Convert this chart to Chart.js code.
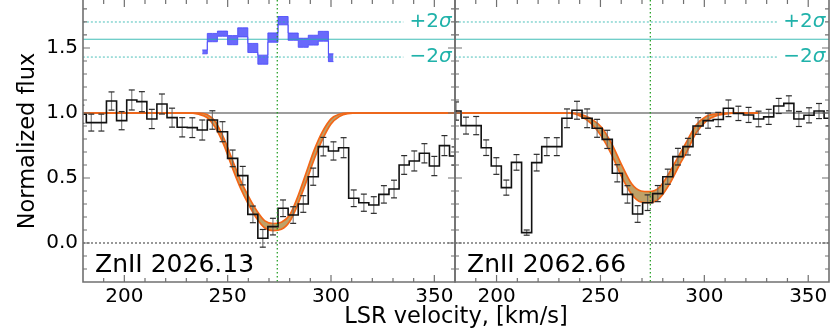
<!DOCTYPE html>
<html>
<head>
<meta charset="utf-8">
<script src="https://cdn.jsdelivr.net/npm/chart.js@4.4.1/dist/chart.umd.min.js"></script>
<style>
html, body { margin: 0; padding: 0; background: #fff; }
#wrap { position: relative; width: 830px; height: 332px; }
canvas { position: absolute; left: 0; top: 0; }
</style>
</head>
<body>
<div id="wrap">
  <canvas id="left" width="830" height="332"></canvas>
  <canvas id="right" width="830" height="332"></canvas>
</div>
<script>
// ZnII 2026.13 : binned flux, 1 sigma errors
var velLeft  = [179.2, 184.0, 188.9, 193.8, 198.7, 203.6, 208.5, 213.3, 218.2, 223.1, 228.0, 232.9, 237.7, 242.6, 247.5, 252.4, 257.3, 262.2, 267.0, 271.9,
                276.8, 281.7, 286.6, 291.4, 296.3, 301.2, 306.1, 311.0, 315.9, 320.7, 325.6, 330.5, 335.4, 340.3, 345.2, 350.0, 354.9, 359.8];
var fluxLeft = [0.99, 0.926, 0.926, 1.092, 0.941, 1.10, 1.087, 0.954, 1.069, 0.964, 0.89, 0.887, 0.869, 0.946, 0.856, 0.651, 0.518, 0.22, 0.036, 0.126,
                0.267, 0.215, 0.30, 0.51, 0.741, 0.708, 0.733, 0.344, 0.31, 0.292, 0.374, 0.415, 0.60, 0.631, 0.69, 0.592, 0.749, 0.669];
var errLeft  = [0.07, 0.065, 0.065, 0.07, 0.07, 0.077, 0.077, 0.074, 0.077, 0.073, 0.074, 0.076, 0.077, 0.071, 0.077, 0.064, 0.071, 0.064, 0.068, 0.064,
                0.064, 0.064, 0.064, 0.066, 0.071, 0.07, 0.077, 0.064, 0.066, 0.064, 0.067, 0.068, 0.072, 0.077, 0.074, 0.074, 0.077, 0.07];

// model profile band (lower / upper edge)
var modelVelLeft = [180, 230, 236, 240, 244, 248, 252, 256, 260, 264, 268, 272, 276, 280, 284, 288, 292, 296, 300, 304, 308, 314, 360];
var modelLoLeft  = [1.0, 1.0, 0.99, 0.965, 0.89, 0.76, 0.59, 0.43, 0.30, 0.19, 0.115, 0.095, 0.105, 0.165, 0.30, 0.47, 0.65, 0.80, 0.915, 0.972, 0.995, 1.0, 1.0];
var modelHiLeft  = [1.0, 1.0, 1.0, 0.988, 0.935, 0.81, 0.65, 0.49, 0.36, 0.25, 0.17, 0.15, 0.16, 0.215, 0.36, 0.54, 0.72, 0.86, 0.955, 0.99, 1.0, 1.0, 1.0];

// residuals (shifted up to 1.567)
var residVel = [237.7, 242.6, 247.5, 252.4, 257.3, 262.2, 267.0, 271.9, 276.8, 281.7, 286.6, 291.4, 296.3, 301.2];
var residVal = [1.47, 1.58, 1.61, 1.56, 1.62, 1.50, 1.41, 1.58, 1.71, 1.587, 1.54, 1.56, 1.59, 1.425];
var residErr = [0.015, 0.032, 0.02, 0.035, 0.035, 0.035, 0.035, 0.036, 0.032, 0.028, 0.035, 0.038, 0.038, 0.03];

// ZnII 2062.66
var velRight  = [175.6, 180.5, 185.3, 190.2, 195.0, 199.9, 204.7, 209.6, 214.5, 219.3, 224.2, 229.0, 233.9, 238.7, 243.6, 248.4, 253.3, 258.1, 263.0, 267.9,
                 272.7, 277.6, 282.4, 287.3, 292.1, 297.0, 301.8, 306.7, 311.6, 316.4, 321.3, 326.1, 331.0, 335.8, 340.7, 345.5, 350.4, 355.2, 360.1];
var fluxRight = [1.0, 1.015, 0.903, 0.903, 0.733, 0.592, 0.426, 0.62, 0.08, 0.618, 0.741, 0.741, 0.959, 1.021, 0.959, 0.882, 0.797, 0.536, 0.374, 0.223,
                 0.31, 0.38, 0.51, 0.664, 0.741, 0.90, 0.941, 0.95, 1.036, 0.997, 0.985, 0.954, 0.97, 1.054, 1.074, 0.954, 0.982, 1.015, 0.959];
var errRight  = [0.07, 0.07, 0.065, 0.07, 0.06, 0.064, 0.058, 0.06, 0.02, 0.064, 0.069, 0.069, 0.072, 0.069, 0.072, 0.069, 0.07, 0.066, 0.067, 0.064,
                 0.06, 0.062, 0.058, 0.064, 0.064, 0.064, 0.058, 0.055, 0.064, 0.055, 0.058, 0.06, 0.058, 0.058, 0.058, 0.058, 0.058, 0.058, 0.058];

var modelVelRight = [180, 235.5, 240.5, 245.5, 250.5, 255.5, 260.2, 265, 269.5, 273.5, 278.5, 283.5, 288, 291.5, 296, 301, 305.5, 310.5, 315.5, 326.5];
var modelLoRight  = [1.0, 0.998, 0.975, 0.92, 0.82, 0.675, 0.51, 0.375, 0.315, 0.31, 0.345, 0.46, 0.60, 0.70, 0.845, 0.94, 0.978, 0.993, 1.0, 1.0];
var modelHiRight  = [1.0, 1.0, 0.99, 0.955, 0.89, 0.76, 0.60, 0.455, 0.40, 0.395, 0.43, 0.55, 0.68, 0.78, 0.905, 0.975, 0.992, 1.0, 1.0, 1.0];

var xTicks = [200, 250, 300, 350];
var yTicks = [0, 0.5, 1.0, 1.5];
var vCenter = 274;
var continuum = 1.0;
var residZero = 1.567;
var residSigma = [1.70, 1.43];
var sigmaText = ['+2', '\u22122'];
var sigmaEnd = 335;

var ORANGE = 'rgb(244,102,22)';
var TAN = 'rgba(172,134,62,0.78)';
var BLUE = 'rgba(72,72,250,0.82)';
var TEAL = '#20b2aa';

Chart.defaults.font.family = 'DejaVu Sans';
Chart.defaults.color = '#000';

function pts(xs, ys){
    return xs.map(function(x, i){ return {x: x, y: ys[i]}; });
}
function shifted(xs, ys, es, sign){
    return xs.map(function(x, i){ return {x: x, y: ys[i] + sign*es[i]}; });
}
function errPts(xs, ys, es){
    var out = [];
    for(var i=0; i<xs.length; i++){
        out.push({x: xs[i], y: ys[i]-es[i]}, {x: xs[i], y: ys[i]+es[i]}, {x: xs[i], y: null});
    }
    return out;
}
function capPts(xs, ys, es){
    return shifted(xs, ys, es, -1).concat(shifted(xs, ys, es, 1));
}

var decor = {
    id: 'decor',
    beforeDatasetsDraw: function(chart, args, o){
        var ctx = chart.ctx, a = chart.chartArea, x = chart.scales.x, y = chart.scales.y;
        function hline(v, x0, x1, color, w, dash){
            var py = y.getPixelForValue(v);
            ctx.beginPath();
            ctx.strokeStyle = color; ctx.lineWidth = w; ctx.setLineDash(dash);
            ctx.moveTo(x.getPixelForValue(x0), py); ctx.lineTo(x.getPixelForValue(x1), py);
            ctx.stroke();
        }
        ctx.save();
        ctx.beginPath(); ctx.rect(a.left, a.top, a.right-a.left, a.bottom-a.top); ctx.clip();
        hline(continuum, 180, 360, '#3c3c3c', 1.1, []);
        hline(0, 180, 360, '#333', 1, [2, 2]);
        hline(residZero, 180, 360, 'rgba(32,178,170,0.85)', 1.1, []);
        residSigma.forEach(function(v){ hline(v, 178, sigmaEnd, 'rgba(32,178,170,0.5)', 1.6, [2, 2]); });
        ctx.restore();
    },
    afterDatasetsDraw: function(chart){
        var ctx = chart.ctx, a = chart.chartArea, x = chart.scales.x;
        var px = x.getPixelForValue(vCenter);
        ctx.save();
        ctx.beginPath();
        ctx.strokeStyle = '#1a9a1a'; ctx.lineWidth = 1.2; ctx.setLineDash([1.5, 2.5]);
        ctx.moveTo(px, a.top); ctx.lineTo(px, a.bottom);
        ctx.stroke();
        ctx.restore();
    },
    afterDraw: function(chart, args, o){
        var ctx = chart.ctx, a = chart.chartArea, x = chart.scales.x, y = chart.scales.y;
        ctx.save();
        // frame (top edge falls outside the figure)
        ctx.strokeStyle = '#707070'; ctx.lineWidth = 1.6; ctx.setLineDash([]);
        ctx.beginPath();
        ctx.moveTo(a.left, a.top); ctx.lineTo(a.left, a.bottom); ctx.lineTo(a.right, a.bottom); ctx.lineTo(a.right, a.top);
        ctx.stroke();
        // inward ticks
        ctx.lineWidth = 1.2;
        ctx.beginPath();
        for(var k=19; k<=35; k++){
            var px = x.getPixelForValue(k*10), len = (k % 5 === 0) ? 7 : 4;
            ctx.moveTo(px, a.bottom); ctx.lineTo(px, a.bottom-len);
            ctx.moveTo(px, a.top); ctx.lineTo(px, a.top+len);
        }
        for(var j=-2; j<=18; j++){
            var py = y.getPixelForValue(j/10), l2 = (j % 5 === 0) ? 7 : 4;
            ctx.moveTo(a.left, py); ctx.lineTo(a.left+l2, py);
            ctx.moveTo(a.right, py); ctx.lineTo(a.right-l2, py);
        }
        ctx.stroke();
        // sigma labels
        ctx.fillStyle = TEAL; ctx.textBaseline = 'middle'; ctx.textAlign = 'left';
        residSigma.forEach(function(v, i){
            var tx = x.getPixelForValue(338), ty = y.getPixelForValue(v);
            ctx.font = '20px "DejaVu Sans"';
            ctx.fillText(sigmaText[i], tx, ty);
            var w = ctx.measureText(sigmaText[i]).width;
            ctx.font = 'italic 20px "DejaVu Sans"';
            ctx.fillText('\u03c3', tx + w, ty);
        });
        // line label
        ctx.fillStyle = '#000'; ctx.textBaseline = 'alphabetic';
        ctx.font = '25px "DejaVu Sans"';
        ctx.fillText(o.label, a.left + 12, a.bottom - 10);
        if(o.xTitle){
            ctx.font = '22.5px "DejaVu Sans"'; ctx.textAlign = 'center'; ctx.textBaseline = 'middle';
            ctx.fillText(o.xTitle, 456, 317);
        }
        ctx.restore();
    }
};

function makePanel(id, p){
    var datasets = [
        {data: pts(p.mv, p.mlo), borderColor: ORANGE, borderWidth: 1.7, cubicInterpolationMode: 'monotone', fill: false, order: 8},
        {data: pts(p.mv, p.mhi), borderColor: ORANGE, borderWidth: 1.7, cubicInterpolationMode: 'monotone', fill: {target: 0}, backgroundColor: TAN, order: 7},
        {data: errPts(p.v, p.f, p.e), borderColor: 'rgba(95,95,95,0.8)', borderWidth: 1.2, spanGaps: false, order: 4},
        {data: capPts(p.v, p.f, p.e), showLine: false, pointStyle: 'line', pointRadius: 3, pointBorderColor: '#2a2a2a', pointBorderWidth: 1.2, order: 3},
        {data: pts(p.v, p.f), borderColor: '#111', borderWidth: 1.6, stepped: 'middle', order: 2}
    ];
    if(p.resid){
        datasets.push(
            {data: shifted(residVel, residVal, residErr, -1), borderColor: BLUE, borderWidth: 1, stepped: 'middle', fill: false, order: 1},
            {data: shifted(residVel, residVal, residErr, 1), borderColor: BLUE, borderWidth: 1, stepped: 'middle', fill: {target: 5}, backgroundColor: BLUE, order: 0}
        );
    }
    datasets.forEach(function(d){
        d.type = 'line';
        if(d.pointRadius === undefined) d.pointRadius = 0;
    });
    return new Chart(document.getElementById(id), {
        type: 'line',
        data: {datasets: datasets},
        options: {
            responsive: false,
            animation: false,
            devicePixelRatio: 1,
            layout: {autoPadding: false, padding: {left: 0, right: p.padRight, top: 0, bottom: 0}},
            plugins: {
                legend: {display: false},
                tooltip: {enabled: false},
                filler: {drawTime: 'beforeDatasetsDraw'},
                decor: {label: p.label, xTitle: p.xTitle}
            },
            scales: {
                x: {
                    type: 'linear', min: 180, max: 360,
                    grid: {display: false, drawTicks: false}, border: {display: false},
                    ticks: {font: {size: 20}, color: '#000', padding: 3, maxRotation: 0, autoSkip: false},
                    afterBuildTicks: function(s){ s.ticks = xTicks.map(function(v){ return {value: v}; }); },
                    afterFit: function(s){ s.height = 50; s.paddingLeft = 0; s.paddingRight = 0; }
                },
                y: {
                    type: 'linear', min: -0.3, max: 1.869,
                    grid: {display: false, drawTicks: false}, border: {display: false},
                    ticks: {display: p.showY, font: {size: 20}, color: '#000', padding: 5,
                            callback: function(v){ return v.toFixed(1); }},
                    title: {display: p.showY, text: 'Normalized flux', font: {size: 22.5}, color: '#000', padding: {top: 15, bottom: 0}},
                    afterBuildTicks: function(s){ s.ticks = yTicks.map(function(v){ return {value: v}; }); },
                    afterFit: function(s){ s.width = p.axisWidth; s.paddingTop = 0; s.paddingBottom = 0; }
                }
            }
        },
        plugins: [decor]
    });
}

makePanel('left', {v: velLeft, f: fluxLeft, e: errLeft, mv: modelVelLeft, mlo: modelLoLeft, mhi: modelHiLeft,
    resid: true, label: 'ZnII 2026.13', xTitle: 'LSR velocity, [km/s]', showY: true, axisWidth: 83, padRight: 375});
makePanel('right', {v: velRight, f: fluxRight, e: errRight, mv: modelVelRight, mlo: modelLoRight, mhi: modelHiRight,
    resid: false, label: 'ZnII 2062.66', xTitle: null, showY: false, axisWidth: 455, padRight: 1});
</script>
</body>
</html>
